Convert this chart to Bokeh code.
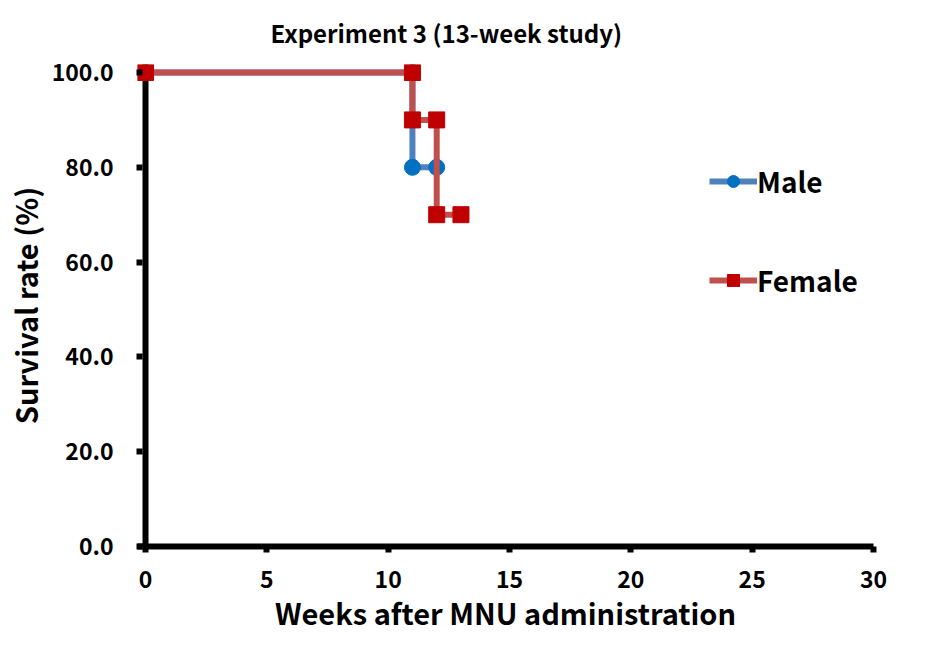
from bokeh.plotting import figure
from bokeh.models import Range1d, FixedTicker, NumeralTickFormatter, Legend, LegendItem, Title, Span
from bokeh.embed import file_html
from bokeh.resources import INLINE

male_x = [0, 11, 11, 12]
male_y = [100.0, 100.0, 80.0, 80.0]
female_x = [0, 11, 11, 12, 12, 13]
female_y = [100.0, 100.0, 90.0, 90.0, 70.0, 70.0]
x_ticks = [0, 5, 10, 15, 20, 25, 30]
y_ticks = [0, 20, 40, 60, 80, 100]

FONT = "Noto Sans CJK KR"

p = figure(width=917, height=641, output_backend="svg", toolbar_location=None,
           x_range=Range1d(-8 * 30 / 728, 30), y_range=Range1d(0, 100 + 8 * 100 / 474),
           frame_width=736, frame_height=482,
           min_border_left=137, min_border_top=64, min_border_right=44, min_border_bottom=95)
p.title = None
t = Title(text="Experiment 3 (13-week study)", align="left", offset=133, standoff=27,
          vertical_align="middle",
          text_font=FONT, text_font_size="24px", text_font_style="bold", text_color="black")
p.add_layout(t, "above")

p.outline_line_color = None
p.xgrid.visible = False
p.ygrid.visible = False

for ax in (p.xaxis[0], p.yaxis[0]):
    ax.axis_line_width = 6
    ax.axis_line_color = "black"
    ax.major_tick_line_width = 6
    ax.major_tick_line_color = "black"
    ax.minor_tick_line_color = None
    ax.major_label_text_font = FONT
    ax.major_label_text_font_size = "23px"
    ax.major_label_text_font_style = "bold"
    ax.major_label_text_color = "black"
    ax.axis_label_text_font = FONT
    ax.axis_label_text_font_size = "29px"
    ax.axis_label_text_font_style = "bold"
    ax.axis_label_text_color = "black"

p.xaxis.major_tick_out = 6
p.xaxis.major_tick_in = 0
p.yaxis.axis_line_color = None
p.yaxis.major_tick_out = 1
p.yaxis.major_tick_in = 5

p.xaxis.ticker = FixedTicker(ticks=x_ticks)
p.yaxis.ticker = FixedTicker(ticks=y_ticks)
p.yaxis.formatter = NumeralTickFormatter(format="0.0")
p.xaxis.axis_label = "Weeks after MNU administration"
p.yaxis.axis_label = "Survival rate (%)"
p.xaxis.major_label_standoff = 18
p.yaxis.major_label_standoff = 23
p.xaxis.axis_label_standoff = 0
p.yaxis.axis_label_standoff = 3

# vertical axis line drawn at x = 0
p.add_layout(Span(location=0, dimension="height", line_color="black", line_width=6, level="underlay"))

ml = p.line(male_x, male_y, line_color="#4F81BD", line_width=6)
ms = p.scatter(male_x, male_y, marker="circle", size=16, fill_color="#0070C0", line_color="#0070C0")
fl = p.line(female_x, female_y, line_color="#C0504D", line_width=6)
fs = p.scatter(female_x, female_y, marker="square", size=16, fill_color="#C00000", line_color="#C00000")

legend = Legend(items=[LegendItem(label="Male", renderers=[ml, ms]),
                       LegendItem(label="Female", renderers=[fl, fs])],
                location=(572, 246), orientation="vertical",
                spacing=59, glyph_width=48, glyph_height=30, label_height=30,
                label_standoff=0, padding=0, margin=0,
                label_text_font=FONT, label_text_font_size="28px", label_text_font_style="bold",
                label_text_color="black", border_line_color=None, background_fill_alpha=0)
p.add_layout(legend, "center")

open("out.html", "w").write(file_html(p, INLINE))
